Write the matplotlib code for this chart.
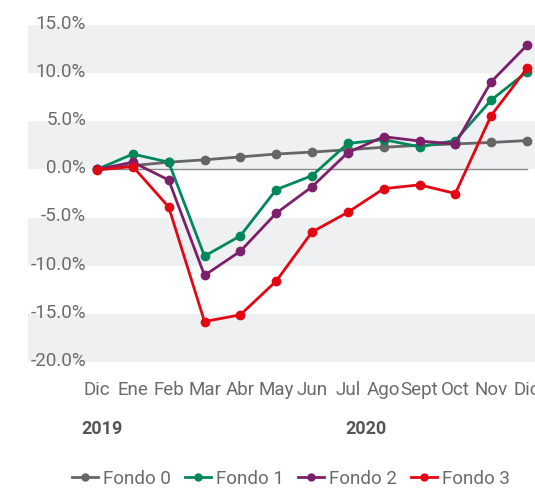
import matplotlib
matplotlib.use("Agg")
import matplotlib.pyplot as plt
from matplotlib.lines import Line2D
import matplotlib.transforms as mtransforms

plt.rcParams['font.family'] = ['Roboto', 'DejaVu Sans']

months = ["Dic", "Ene", "Feb", "Mar", "Abr", "May", "Jun", "Jul", "Ago", "Sept", "Oct", "Nov", "Dic"]
years = ["2019", "2020"]
year_pos = [0.15, 7.5]
yticks = [15, 10, 5, 0, -5, -10, -15, -20]

fondo0 = [0.0, 0.4, 0.75, 1.0, 1.3, 1.6, 1.8, 2.05, 2.3, 2.5, 2.65, 2.8, 3.0]
fondo1 = [0.0, 1.6, 0.75, -9.0, -6.9, -2.1, -0.65, 2.7, 3.1, 2.35, 3.0, 7.2, 10.15]
fondo2 = [0.0, 0.75, -1.1, -11.0, -8.5, -4.55, -1.8, 1.75, 3.4, 2.95, 2.65, 9.1, 12.9]
fondo3 = [-0.05, 0.3, -3.9, -15.8, -15.1, -11.6, -6.5, -4.45, -2.0, -1.6, -2.5, 5.6, 10.5]

series = [("Fondo 0", fondo0, "#666666"),
          ("Fondo 1", fondo1, "#00875A"),
          ("Fondo 2", fondo2, "#7D1F6B"),
          ("Fondo 3", fondo3, "#E30613")]

W, H = 535, 488
fig = plt.figure(figsize=(W / 100, H / 100), dpi=100)
left, right, top, bottom = 28, 535, 25, 362
ax = fig.add_axes([left / W, 1 - bottom / H, (right - left) / W, (bottom - top) / H])
ax.set_xlim(-1.926, 12.223)
ax.set_ylim(-20, 15)
for s in ax.spines.values():
    s.set_visible(False)
ax.set_xticks([])
ax.set_yticks([])

# bands
for lo, hi in [(10, 15), (0, 5), (-10, -5), (-20, -15)]:
    ax.axhspan(lo, hi, color="#EFF0F2", zorder=0, lw=0)

x = list(range(len(months)))
ax.plot([x[0], x[-1]], [0, 0], color="#8A8A8A", lw=1.0, zorder=1)

for name, vals, c in series:
    ax.plot(x, vals, color=c, lw=2.0, marker="o", markersize=6, zorder=3, label=name,
            solid_capstyle="round")

tc = "#6B6B6B"
trans = mtransforms.blended_transform_factory(ax.transAxes, ax.transData)
for v in yticks:
    ax.text(58 / (right - left), v + 0.12, f"{v:.1f}%", transform=trans, ha="right", va="center",
            fontsize=13.5, color=tc, zorder=2)

for xi, m in zip(x, months):
    ax.text(xi, -22.9, m, ha="center", va="center", fontsize=13.5, color=tc, clip_on=False)
for xp, yr in zip(year_pos, years):
    ax.text(xp, -27.0, yr, ha="center", va="center", fontsize=13, color="#555555",
            fontweight="bold", clip_on=False)

handles = [Line2D([0], [0], color=c, lw=2.0, marker="o", markersize=5) for _, _, c in series]
fig.legend(handles, [s[0] for s in series], loc="center", bbox_to_anchor=(291 / W, 1 - 479 / H),
           ncol=4, frameon=False, fontsize=13.5, labelcolor=tc, handlelength=1.4,
           handletextpad=0.26, columnspacing=0.75, borderpad=0)

fig.savefig("out.png", dpi=100)
